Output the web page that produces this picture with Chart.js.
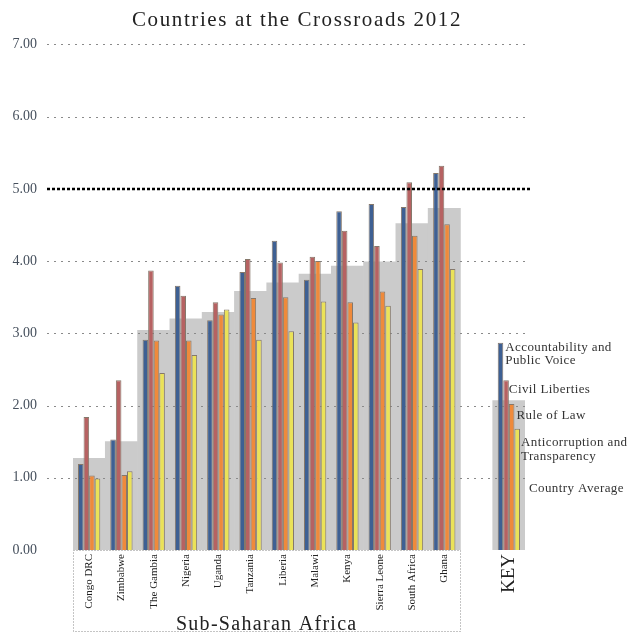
<!DOCTYPE html>
<html>
<head>
<meta charset="utf-8">
<script src="https://cdn.jsdelivr.net/npm/chart.js@4"></script>
<style>
html,body{margin:0;padding:0;background:#fff;}
#wrap{width:632px;height:632px;}
</style>
</head>
<body>
<div id="wrap"><canvas id="c" width="632" height="632"></canvas></div>
<script>
const categories = ['Congo DRC','Zimbabwe','The Gambia','Nigeria','Uganda','Tanzania','Liberia','Malawi','Kenya','Sierra Leone','South Africa','Ghana','','KEY'];
const accountability = [1.19,1.53,2.91,3.66,3.18,3.85,4.28,3.74,4.69,4.79,4.75,5.22,null,2.87];
const civilLiberties = [1.84,2.35,3.87,3.52,3.43,4.03,3.98,4.06,4.42,4.21,5.09,5.32,null,2.35];
const ruleOfLaw = [1.03,1.04,2.90,2.90,3.26,3.49,3.50,4.00,3.43,3.58,4.35,4.51,null,2.02];
const anticorruption = [0.99,1.09,2.45,2.70,3.33,2.91,3.03,3.44,3.15,3.38,3.89,3.89,null,1.68];
const countryAverage = [1.27,1.50,3.04,3.20,3.29,3.58,3.70,3.82,3.93,3.99,4.52,4.73,null,2.07];
const yTicks = [0,1,2,3,4,5,6,7];
const seriesNames = ['Accountability and Public Voice','Civil Liberties','Rule of Law','Anticorruption and Transparency','Country Average'];

const SERIF = '"Liberation Serif", "DejaVu Serif", serif';
const KEY_INDEX = categories.indexOf('KEY');
const GREY_DS = 4;

const barStyle = {categoryPercentage:0.69, barPercentage:1, borderWidth:1, borderColor:'#85786b'};

function spaced(ctx, px){ if ('letterSpacing' in ctx) ctx.letterSpacing = px + 'px'; }

const decorPlugin = {
  id:'decor',
  afterDatasetDraw(chart, args){
    if (args.index !== GREY_DS) return;
    const ctx = chart.ctx, y = chart.scales.y;
    ctx.save();
    ctx.strokeStyle = '#8a8a8a';
    ctx.lineWidth = 1;
    ctx.setLineDash([2,5]);
    yTicks.forEach(v => {
      if (v === 0 || v === 5) return;
      const py = Math.round(y.getPixelForValue(v)) + 0.5;
      ctx.beginPath(); ctx.moveTo(47, py); ctx.lineTo(530, py); ctx.stroke();
    });
    ctx.restore();
  },
  afterDatasetsDraw(chart){
    const ctx = chart.ctx, y = chart.scales.y, x = chart.scales.x;
    ctx.save();
    // threshold line at 5.00
    const p5 = Math.round(y.getPixelForValue(5));
    ctx.strokeStyle = '#000';
    ctx.lineWidth = 2.5;
    ctx.setLineDash([3,2]);
    ctx.beginPath(); ctx.moveTo(47, p5); ctx.lineTo(530, p5); ctx.stroke();

    // dotted box around region labels
    const step = x.getPixelForValue(1) - x.getPixelForValue(0);
    const left = x.getPixelForValue(0) - step/2;
    const right = x.getPixelForValue(11) + step/2;
    const top = y.getPixelForValue(0);
    ctx.strokeStyle = '#8a8a8a';
    ctx.lineWidth = 1;
    ctx.setLineDash([1,2]);
    ctx.strokeRect(Math.round(left)+0.5, Math.round(top)+0.5, Math.round(right-left), 631.5-Math.round(top)-0.5);
    ctx.setLineDash([]);

    // region label
    ctx.fillStyle = '#222';
    ctx.font = '20px ' + SERIF;
    spaced(ctx, 1.3);
    ctx.textAlign = 'center';
    ctx.textBaseline = 'alphabetic';
    ctx.fillText('Sub-Saharan Africa', (left+right)/2, 630);

    // title
    ctx.font = '21px ' + SERIF;
    spaced(ctx, 1.6);
    ctx.textBaseline = 'middle';
    ctx.fillText('Countries at the Crossroads 2012', 297, 20);

    // key labels
    ctx.font = '13px ' + SERIF;
    spaced(ctx, 0.4);
    ctx.fillStyle = '#333';
    ctx.textAlign = 'left';
    ctx.textBaseline = 'middle';
    const el = i => chart.getDatasetMeta(i).data[KEY_INDEX];
    const rEdge = e => e.x + e.width/2;
    const e0 = el(0), e1 = el(1), e2 = el(2), e3 = el(3);
    ctx.fillText('Accountability and', rEdge(e0)+2, e0.y+5);
    ctx.fillText('Public Voice', rEdge(e0)+2, e0.y+18);
    ctx.fillText('Civil Liberties', rEdge(e1)+0, e1.y+9);
    ctx.fillText('Rule of Law', rEdge(e2)+2, e2.y+11);
    ctx.fillText('Anticorruption and', rEdge(e3)+1, e3.y+14);
    ctx.fillText('Transparency', rEdge(e3)+1, e3.y+28);
    ctx.fillText('Country Average', rEdge(e3)+9, e3.y+60);
    ctx.restore();
  }
};

new Chart(document.getElementById('c'), {
  type:'bar',
  data:{
    labels:categories,
    datasets:[
      Object.assign({label:seriesNames[0], data:accountability, backgroundColor:'#3e6093'}, barStyle),
      Object.assign({label:seriesNames[1], data:civilLiberties, backgroundColor:'#b66262'}, barStyle),
      Object.assign({label:seriesNames[2], data:ruleOfLaw, backgroundColor:'#ef8a3b'}, barStyle),
      Object.assign({label:seriesNames[3], data:anticorruption, backgroundColor:'#ebe258'}, barStyle),
      {label:seriesNames[4], data:countryAverage, backgroundColor:'#cbcbcb', borderWidth:0,
       grouped:false, categoryPercentage:1, barPercentage:1}
    ]
  },
  options:{
    responsive:false,
    animation:false,
    layout:{padding:{left:0, right:107, top:43, bottom:0}},
    plugins:{legend:{display:false}, tooltip:{enabled:false}, title:{display:false}},
    scales:{
      x:{
        grid:{display:false, drawTicks:false},
        border:{display:false},
        ticks:{
          autoSkip:false, minRotation:90, maxRotation:90, padding:4, color:'#222',
          font:(c)=>({family:SERIF, size: c.index===KEY_INDEX ? 19 : 11})
        },
        afterFit(s){ s.height = 82; }
      },
      y:{
        min:0, max:7,
        grid:{display:false, drawTicks:false},
        border:{display:false},
        ticks:{stepSize:1, padding:36, color:'#46505d', font:{family:SERIF, size:14},
          callback:(v)=>Number(v).toFixed(2)},
        afterFit(s){ s.width = 73; }
      }
    }
  },
  plugins:[decorPlugin]
});
</script>
</body>
</html>
